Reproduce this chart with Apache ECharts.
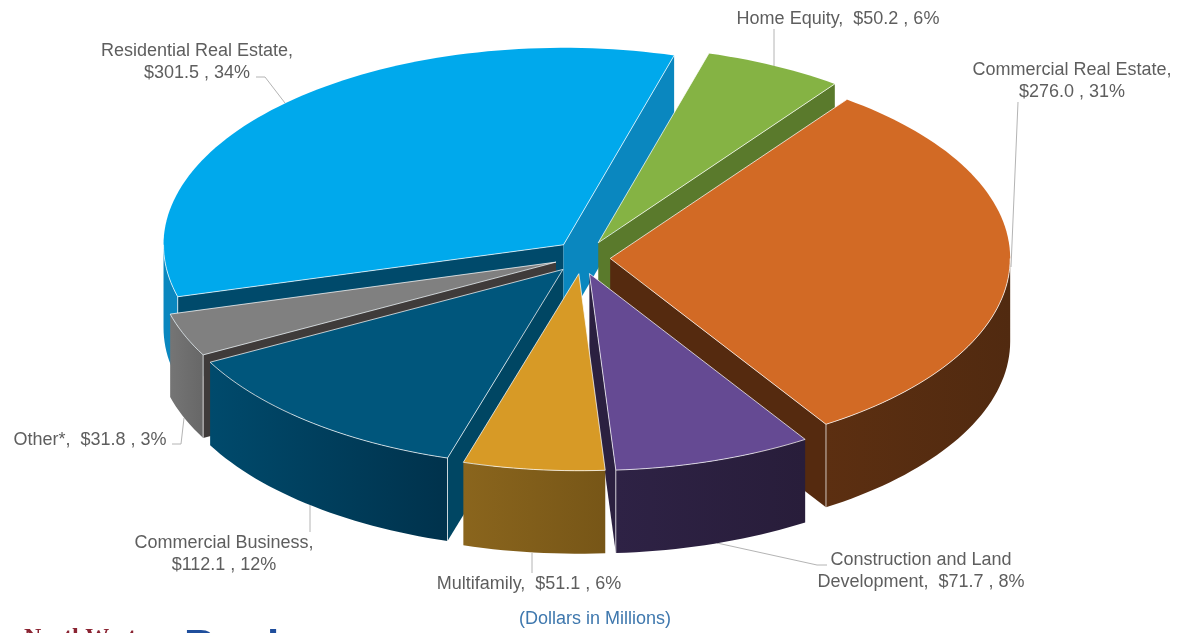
<!DOCTYPE html>
<html>
<head>
<meta charset="utf-8">
<style>
  html, body { margin: 0; padding: 0; background: #fff; overflow: hidden; }
  #chart { width: 1186px; height: 633px; }
</style>
<script src="https://cdn.jsdelivr.net/npm/echarts@6/dist/echarts.min.js"></script>
</head>
<body>
<div id="chart"></div>
<script>
// 数据
const categories = ['Residential Real Estate', 'Home Equity', 'Commercial Real Estate', 'Construction and Land Development', 'Multifamily', 'Commercial Business', 'Other*']
const amounts = [301.5, 50.2, 276.0, 71.7, 51.1, 112.1, 31.8]
const percents = [34, 6, 31, 8, 6, 12, 3]
const footnote = '(Dollars in Millions)'

// 饼图外观
const centerX = 585
const centerY = 257
const radiusX = 400
const radiusY = 197
const depth = 83
const startAngle = 195.3 // 顺时针
const explode = [0.08, 0.075, 0.068, 0.067, 0.07, 0.075, 0.07]
const nudgeX = [1, 0, -2, -4, -3, -3, -3]
const nudgeY = [-1, -1, 1, 4, 3, 1, 0]
const drawOrder = [0, 1, 2, 6, 5, 3, 4]
const topColors = ['#00a9ec', '#85b344', '#d26a25', '#654a93', '#d79a26', '#00567c', '#808080']
const wallColors = [['#0a87bf', '#0a87bf'], ['#5a7a2c', '#5a7a2c'], ['#5c2f11', '#512a10'], ['#2e2245', '#281d3a'], ['#8a651d', '#775617'], ['#004a6c', '#00324c'], ['#757575', '#676767']]
const startFaceColors = ['#004a6b', '#5a7a2c', '#552a0f', '#2b2040', '#85601c', '#004663', '#3f3b3a']
const endFaceColors = ['#0a87bf', '#5a7a2c', '#552a0f', '#2b2040', '#85601c', '#003e5a', '#3f3b3a']
const edgeColor = 'rgba(255,255,255,0.72)'

// 标签
const labelFont = '18px "Liberation Sans", Arial, sans-serif'
const labelColor = '#5e5e5e'
const labelLines = [
  ['Residential Real Estate,', '$301.5 , 34%'],
  ['Home Equity,  $50.2 , 6%'],
  ['Commercial Real Estate,', '$276.0 , 31%'],
  ['Construction and Land', 'Development,  $71.7 , 8%'],
  ['Multifamily,  $51.1 , 6%'],
  ['Commercial Business,', '$112.1 , 12%'],
  ['Other*,  $31.8 , 3%']
]
const labelCenters = [[197, 62], [838, 19], [1072, 81], [921, 571], [529, 584], [224, 554], [90, 440]]
const leaderLines = [
  [[256, 77], [265, 77], [285, 103]],
  [[774, 29], [774, 66]],
  [[1018, 102], [1011, 267]],
  [[717, 543], [817, 565], [827, 565]],
  [[532, 553], [532, 573]],
  [[310, 505], [310, 532]],
  [[184, 418], [181, 444], [172, 444]]
]

const total = amounts.reduce((a, b) => a + b, 0)
const toRad = Math.PI / 180

// 每块的起止角度
const sliceAngles = []
let cursor = startAngle
amounts.forEach(v => {
  const sweep = v / total * 360
  sliceAngles.push([cursor, cursor - sweep])
  cursor -= sweep
})

function arcPoints(from, to, ox, oy) {
  const pts = []
  const steps = Math.max(2, Math.ceil(Math.abs(from - to) / 1.5))
  for (let i = 0; i <= steps; i++) {
    const a = (from + (to - from) * i / steps) * toRad
    pts.push([ox + radiusX * Math.cos(a), oy - radiusY * Math.sin(a)])
  }
  return pts
}

function shiftDown(pts) {
  return pts.map(p => [p[0], p[1] + depth]).reverse()
}

function poly(points, fill, z2) {
  return { type: 'polygon', shape: { points }, style: { fill }, z2, silent: true }
}

function line(points, z2) {
  return { type: 'polyline', shape: { points }, style: { stroke: edgeColor, lineWidth: 1, fill: null }, z2, silent: true }
}

function renderSlice(params, api) {
  const i = params.dataIndex
  const a0 = sliceAngles[i][0]
  const a1 = sliceAngles[i][1]
  const mid = (a0 + a1) / 2 * toRad
  const ox = centerX + nudgeX[i] + explode[i] * radiusX * Math.cos(mid)
  const oy = centerY + nudgeY[i] - explode[i] * radiusY * Math.sin(mid)
  const z = (drawOrder.indexOf(i) + 1) * 10
  const children = []
  const rim = arcPoints(a0, a1, ox, oy)
  const apex = [ox, oy]
  const first = rim[0]
  const last = rim[rim.length - 1]

  // 切面: 只画朝前的一面
  if (Math.cos(a0 * toRad) < 0) {
    children.push(poly([apex, first, [first[0], first[1] + depth], [ox, oy + depth]], startFaceColors[i], z))
  }
  if (Math.cos(a1 * toRad) > 0) {
    children.push(poly([apex, last, [last[0], last[1] + depth], [ox, oy + depth]], endFaceColors[i], z))
  }

  // 外侧弧面, 只有下半圈看得见
  const frontFrom = Math.min(a0, 360)
  const lo = Math.max(a1, -180)
  let wallFrom = null
  let wallTo = null
  if (frontFrom > 180) { wallFrom = frontFrom; wallTo = Math.max(a1, 180) }
  if (frontFrom <= 0) { wallFrom = frontFrom; wallTo = lo }
  if (frontFrom > 0 && a1 < 0) { wallFrom = 0; wallTo = lo }
  if (wallFrom !== null) {
    const front = arcPoints(wallFrom, wallTo, ox, oy)
    children.push(poly(front.concat(shiftDown(front)), new echarts.graphic.LinearGradient(0, 0, 1, 0, [
      { offset: 0, color: wallColors[i][0] },
      { offset: 1, color: wallColors[i][1] }
    ]), z + 1))
    children.push(line(front, z + 3))
    if (Math.abs(wallFrom - a0) < 0.01 && Math.cos(a0 * toRad) < 0) {
      children.push(line([first, [first[0], first[1] + depth]], z + 3))
    }
    if (Math.abs(wallTo - a1) < 0.01 && Math.cos(a1 * toRad) > 0) {
      children.push(line([last, [last[0], last[1] + depth]], z + 3))
    }
  }

  // 顶面
  children.push(poly([apex].concat(rim), topColors[i], z + 2))
  children.push(line([first, apex, last], z + 3))

  return { type: 'group', children }
}

const graphics = []
leaderLines.forEach(pts => {
  graphics.push({ type: 'polyline', shape: { points: pts }, style: { stroke: '#b4b4b4', lineWidth: 1, fill: null }, z: 1 })
})
labelLines.forEach((lines, i) => {
  graphics.push({
    type: 'text',
    x: labelCenters[i][0],
    y: labelCenters[i][1],
    style: { text: lines.join('\n'), font: labelFont, fill: labelColor, align: 'center', verticalAlign: 'middle', lineHeight: 22 },
    z: 5
  })
})
graphics.push({
  type: 'text', x: 595, y: 619,
  style: { text: footnote, font: labelFont, fill: '#3f78ae', align: 'center', verticalAlign: 'middle' },
  z: 5
})
// 页脚徽标, 下半截被窗口裁掉
graphics.push({
  type: 'text', x: 24, y: 626,
  style: { text: 'NorthWest', font: 'bold 24px "Liberation Serif", serif', fill: '#8a2432', align: 'left', verticalAlign: 'top' },
  z: 5
})
graphics.push({
  type: 'text', x: 184, y: 627,
  style: { text: 'Bank', font: 'bold 44px "Liberation Sans", sans-serif', fill: '#1f4e9c', align: 'left', verticalAlign: 'top' },
  z: 5
})

const chart = echarts.init(document.getElementById('chart'), null, { renderer: 'canvas' })
chart.setOption({
  animation: false,
  backgroundColor: '#fff',
  graphic: graphics,
  series: [{
    type: 'custom',
    coordinateSystem: 'none',
    name: 'Loans',
    data: categories.map((name, i) => ({ name, value: amounts[i], pct: percents[i] })),
    renderItem: renderSlice,
    silent: true
  }]
})
window.addEventListener('resize', function() {
  chart.resize()
})
</script>
</body>
</html>
